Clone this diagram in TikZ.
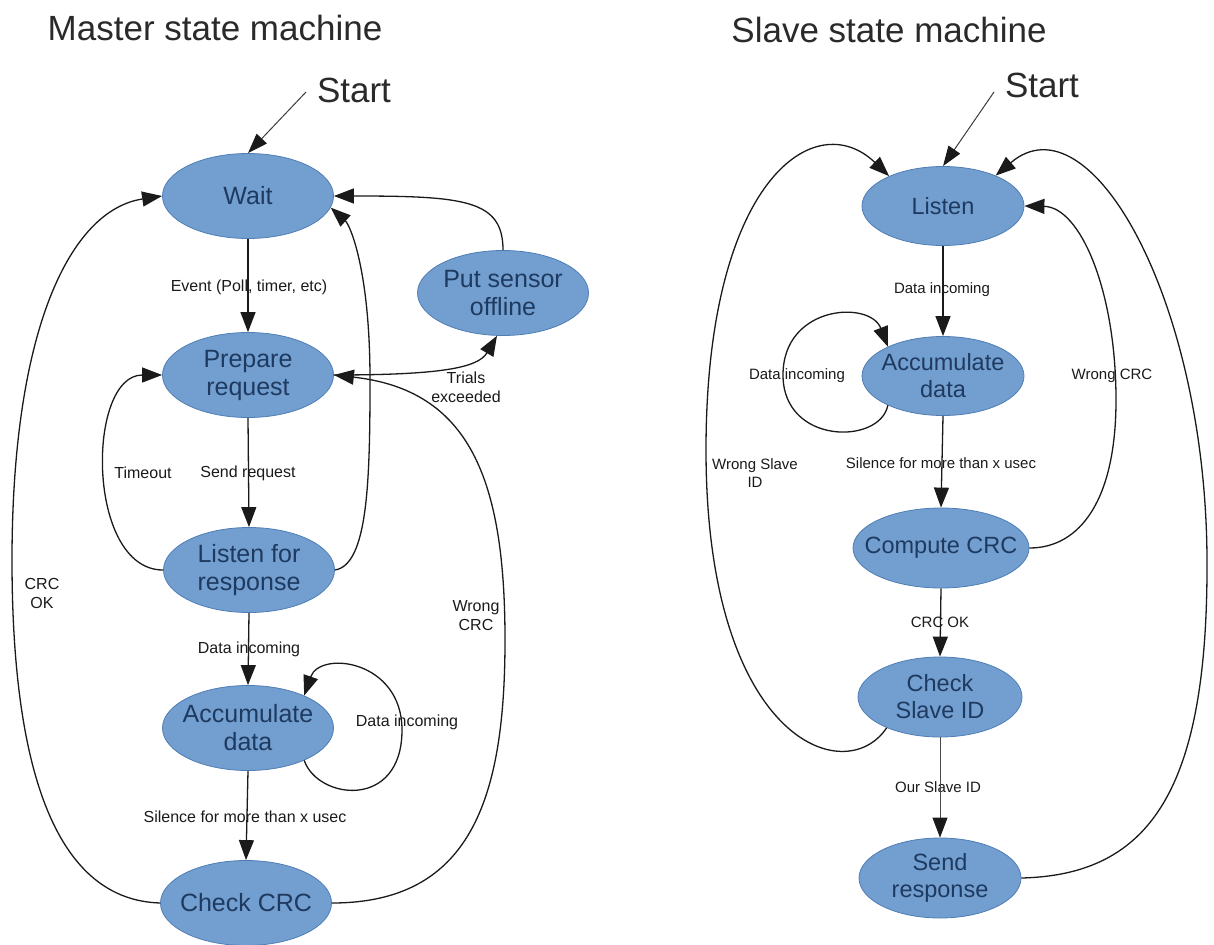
\documentclass[tikz,border=0pt]{standalone}
\usepackage{fontspec}
\setmainfont{Liberation Sans}
\usetikzlibrary{arrows.meta,shapes.geometric}
\definecolor{stfill}{HTML}{729FCF}
\definecolor{stline}{HTML}{4F7DB5}
\definecolor{sttext}{HTML}{1F3A60}
\definecolor{ink}{HTML}{1A1A1A}
\definecolor{ttlink}{HTML}{2A2A2A}

\begin{document}
\begin{tikzpicture}[x=1pt,y=-1pt,
  mstate/.style={ellipse, draw=stline, line width=0.8pt, fill=stfill, inner sep=0pt,
                 minimum width=171pt, minimum height=85pt},
  sstate/.style={ellipse, draw=stline, line width=0.8pt, fill=stfill, inner sep=0pt,
                 minimum width=162pt, minimum height=79pt},
  mtext/.style={font=\fontsize{25}{28}\selectfont, text=sttext, align=center, inner sep=0pt},
  stext/.style={font=\fontsize{23.5}{27}\selectfont, text=sttext, align=center, inner sep=0pt},
  ttl/.style={font=\fontsize{35}{40}\selectfont, text=ttlink, inner sep=0pt, anchor=base},
  mlab/.style={font=\fontsize{16}{19}\selectfont, text=ink, align=center, inner sep=0pt},
  slab/.style={font=\fontsize{15}{18}\selectfont, text=ink, align=center, inner sep=0pt},
  edge/.style={draw=ink, line width=1.3pt, -{Triangle[length=20pt,width=15pt,color=ink]}},
  thinedge/.style={edge, draw=ink!80, line width=0.9pt},
  startedge/.style={draw=ink!85, line width=1pt, -{Triangle[length=20pt,width=14pt,color=ink]}},
]
\useasboundingbox (0,0) rectangle (1214,944);

% ---------- titles ----------
\node[ttl] (mtitle) at (215,41) {Master state machine};
\node[ttl] (stitle) at (889,43) {Slave state machine};
\node[ttl] (mstart) at (354,103) {Start};
\node[ttl] (sstart) at (1042,98) {Start};
\coordinate (ms0) at (306,92);
\coordinate (ss0) at (994,92);

% ---------- master states ----------
\node[mstate, label={[mtext]center:Wait}] (W) at (248,196) {};
\node[mstate, label={[mtext]center:{Put sensor\\offline}}] (PS) at (503,293) {};
\node[mstate, label={[mtext]center:{Prepare\\request}}] (P) at (248,375) {};
\node[mstate, label={[mtext]center:{Listen for\\response}}] (L) at (249,570) {};
\node[mstate, label={[mtext]center:{Accumulate\\data}}] (A) at (248,728) {};
\node[mstate, label={[mtext]center:Check CRC}] (C) at (246,903) {};

% ---------- slave states ----------
\node[sstate, label={[stext]center:Listen}] (SL) at (943,206) {};
\node[sstate, label={[stext]center:{Accumulate\\data}}] (SA) at (943,376) {};
\node[sstate, minimum width=176pt, minimum height=80pt, label={[stext]center:Compute CRC}] (CC) at (941,548) {};
\node[sstate, minimum width=164pt, minimum height=80pt, label={[stext]center:{Check\\Slave ID}}] (CS) at (940,697) {};
\node[sstate, minimum height=80pt, label={[stext]center:{Send\\response}}] (SR) at (940,878) {};

% ---------- master transition labels ----------
\node[mlab] (lev) at (249,287) {Event (Poll, timer, etc)};
\node[mlab] (ltr) at (466,387) {Trials\\exceeded};
\node[mlab] (lto) at (143,473) {Timeout};
\node[mlab] (lsr) at (248,473) {Send request};
\node[mlab] (lok) at (42,593) {CRC\\OK};
\node[mlab] (lwc) at (476,616) {Wrong\\CRC};
\node[mlab] (ldi) at (249,649) {Data incoming};
\node[mlab] (ldl) at (407,722) {Data incoming};
\node[mlab] (lsi) at (245,817) {Silence for more than x usec};

% ---------- slave transition labels ----------
\node[slab] (sdi) at (942,290) {Data incoming};
\node[slab] (sdl) at (797,376) {Data incoming};
\node[slab] (swc) at (1112,376) {Wrong CRC};
\node[slab] (sws) at (755,473) {Wrong Slave\\ID};
\node[slab] (ssi) at (941,463) {Silence for more than x usec};
\node[slab] (sok) at (940,622) {CRC OK};
\node[slab] (sid) at (938,787) {Our Slave ID};

% ---------- master transitions ----------
\draw[startedge] (ms0) -- (W.north);
\draw[edge] (W.south) -- (P.north);
\draw[edge] (P.south) -- (L.north);
\draw[edge] (L.south) -- (A.north);
\draw[edge] (A.south) -- (C.north);
\draw[edge] (L.west) .. controls (86,570) and (86,375) .. (P.west);
\draw[edge] (L.east) .. controls (368,565) and (370,480) .. (370,380)
            .. controls (370,270) and (350,225) .. (W.-8);
\draw[edge] (PS.north) .. controls (503,200) and (465,196) .. (W.east);
\draw[edge] (P.east) .. controls (440,375) and (478,368) .. (PS.262);
\draw[edge] (C.east) .. controls (470,903) and (505,800) .. (505,640)
            .. controls (505,480) and (470,390) .. (P.east);
\draw[edge] (C.west) .. controls (60,900) and (12,780) .. (12,560)
            .. controls (12,330) and (70,210) .. (W.west);
\draw[edge] (A.-30) .. controls (318,800) and (402,810) .. (402,730)
            .. controls (402,660) and (320,650) .. (A.30);

% ---------- slave transitions ----------
\draw[startedge] (ss0) -- (SL.north);
\draw[edge] (SL.south) -- (SA.north);
\draw[edge] (SA.south) -- (CC.north);
\draw[edge] (CC.south) -- (CS.north);
\draw[thinedge] (CS.south) -- (SR.north);
\draw[edge] (SA.208) .. controls (880,445) and (783,445) .. (783,375)
            .. controls (783,305) and (870,300) .. (SA.152);
\draw[edge] (CC.east) .. controls (1080,548) and (1116,500) .. (1116,400)
            .. controls (1116,290) and (1080,207) .. (SL.east);
\draw[edge] (CS.210) .. controls (845,790) and (706,740) .. (706,450)
            .. controls (706,180) and (815,105) .. (SL.151);
\draw[edge] (SR.east) .. controls (1150,875) and (1208,790) .. (1207,560)
            .. controls (1206,300) and (1090,95) .. (SL.30);
\end{tikzpicture}
\end{document}
